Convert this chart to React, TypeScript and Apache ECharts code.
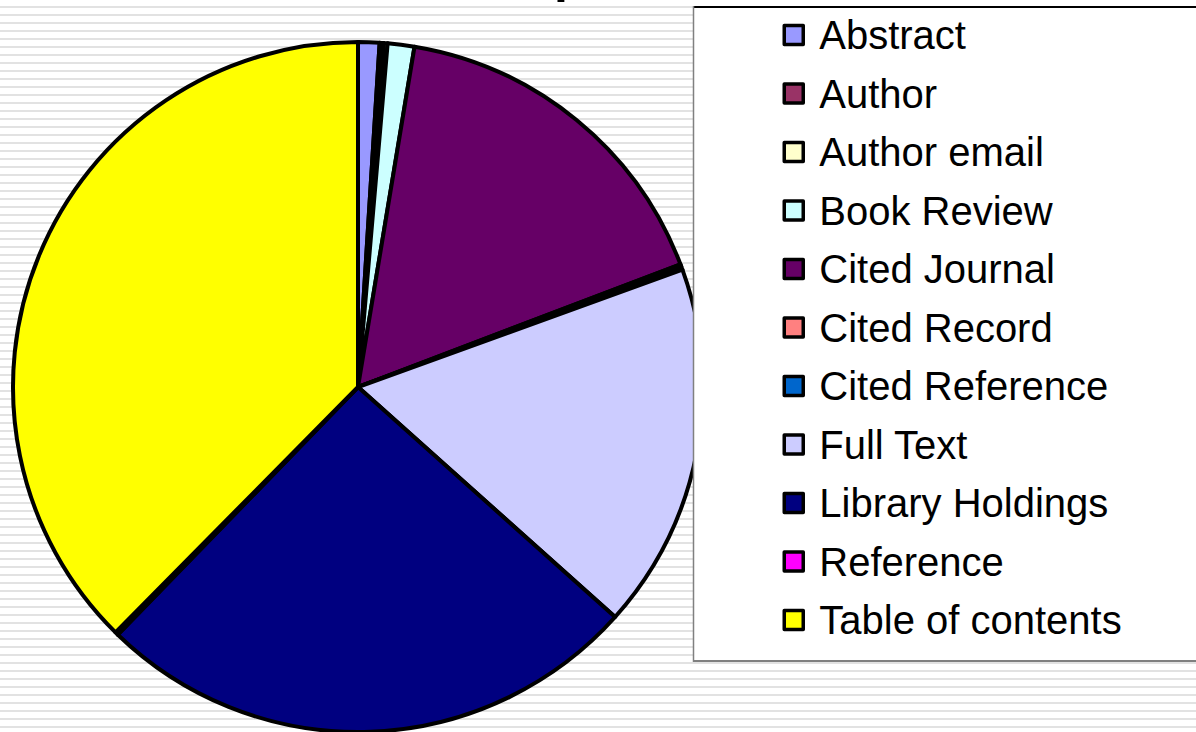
import React, { useEffect, useRef } from "react";
import * as echarts from "echarts";

const categories = [
  "Abstract",
  "Author",
  "Author email",
  "Book Review",
  "Cited Journal",
  "Cited Record",
  "Cited Reference",
  "Full Text",
  "Library Holdings",
  "Reference",
  "Table of contents",
];
const values = [1.0, 0.18, 0.19, 1.25, 16.6, 0.1, 0.16, 17.14, 25.64, 0.15, 37.6];
const colors = [
  "#9999ff",
  "#993366",
  "#ffffcc",
  "#ccffff",
  "#660066",
  "#ff8080",
  "#0066cc",
  "#ccccff",
  "#000080",
  "#ff00ff",
  "#ffff00",
];

export default function App() {
  const ref = useRef<HTMLDivElement>(null);
  useEffect(() => {
    const chart = echarts.init(ref.current!, null, { renderer: "svg" });
    chart.setOption({
      animation: false,
      backgroundColor: "transparent",
      color: colors,
      legend: {
        orient: "vertical",
        left: 782.5,
        top: 15,
        padding: 0,
        itemGap: 18.5,
        itemWidth: 19,
        itemHeight: 19,
        icon: "rect",
        z: 20,
        selectedMode: false,
        itemStyle: { borderColor: "#000000", borderWidth: 3.5 },
        textStyle: {
          fontSize: 40,
          lineHeight: 40,
          fontFamily: "Liberation Sans, Arial, sans-serif",
          color: "#000000",
          padding: [0, 0, 0, 11],
        },
        data: categories,
      },
      graphic: {
        elements: [
          {
            type: "rect",
            z: 10,
            shape: { x: 693, y: 6, width: 520, height: 655 },
            style: { fill: "#ffffff" },
          },
          {
            type: "line",
            z: 11,
            shape: { x1: 693, y1: 7, x2: 1210, y2: 7 },
            style: { stroke: "#000000", lineWidth: 2 },
          },
          {
            type: "line",
            z: 11,
            shape: { x1: 693.5, y1: 6, x2: 693.5, y2: 662 },
            style: { stroke: "#808080", lineWidth: 1.5 },
          },
          {
            type: "line",
            z: 11,
            shape: { x1: 693, y1: 661, x2: 1210, y2: 661 },
            style: { stroke: "#808080", lineWidth: 2 },
          },
          {
            type: "text",
            z: 11,
            x: 554,
            y: -25,
            style: {
              text: "p",
              font: "bold 50px 'Liberation Sans', Arial, sans-serif",
              fill: "#000000",
              align: "left",
              verticalAlign: "middle",
            },
          },
        ],
      },
      series: [
        {
          type: "pie",
          center: [358, 387],
          radius: 345,
          startAngle: 90,
          clockwise: true,
          minAngle: 0,
          avoidLabelOverlap: false,
          label: { show: false },
          labelLine: { show: false },
          emphasis: { disabled: true },
          itemStyle: { borderColor: "#000000", borderWidth: 4 },
          data: categories.map((name, i) => ({ name, value: values[i] })),
        },
      ],
    });
    return () => chart.dispose();
  }, []);
  return (
    <div
      ref={ref}
      style={{
        position: "fixed",
        left: 0,
        top: 0,
        width: 1196,
        height: 732,
        background:
          "repeating-linear-gradient(to bottom, #ffffff 0px, #ffffff 6px, #e2e2e2 6px, #e2e2e2 8px)",
      }}
    />
  );
}
